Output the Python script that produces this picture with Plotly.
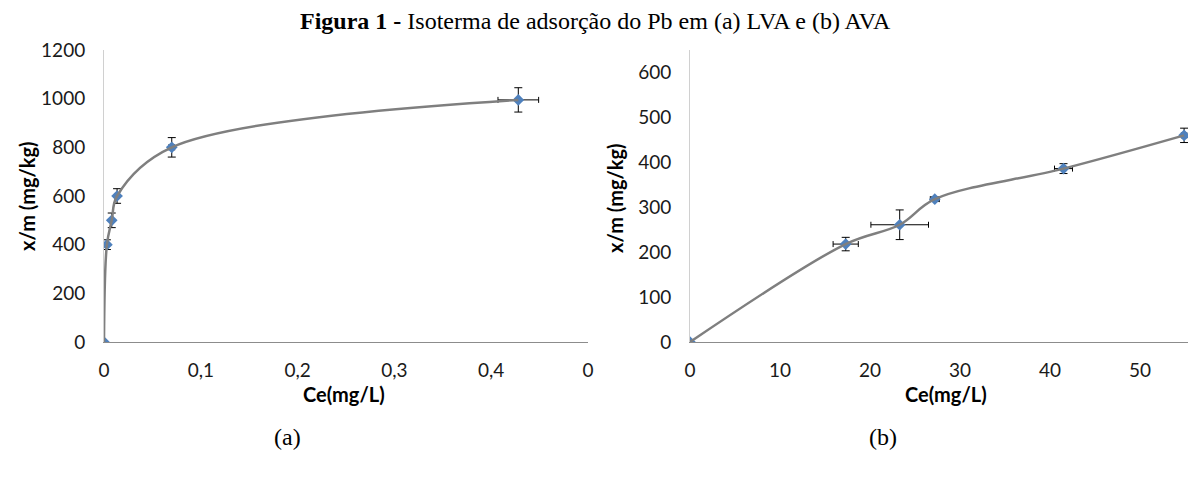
import plotly.graph_objects as go

# Panel (a) LVA
ce_a = [0, 0.003, 0.008, 0.0135, 0.070, 0.428]
xm_a = [0, 400, 500, 600, 800, 995]
ce_a_err = [0, 0.001, 0.001, 0.002, 0.003, 0.021]
xm_a_err = [0, 20, 30, 30, 40, 50]

# Panel (b) AVA
ce_b = [0, 17.3, 23.3, 27.2, 41.5, 54.9]
xm_b = [0, 218, 261, 318, 386, 460]
ce_b_err = [0, 1.4, 3.2, 0.5, 1.0, 0.3]
xm_b_err = [0, 15, 33, 5, 11, 16]

xticks_a = [0, 0.1, 0.2, 0.3, 0.4, 0.5]
xticktext_a = ["0", "0,1", "0,2", "0,3", "0,4", "0"]
yticks_a = [0, 200, 400, 600, 800, 1000, 1200]
xticks_b = [0, 10, 20, 30, 40, 50]
yticks_b = [0, 100, 200, 300, 400, 500, 600]

LINE = "#7f7f7f"
MARK = "#4F81BD"
AX = "#8c8c8c"
TICKFONT = dict(family="Lato, Open Sans, sans-serif", size=19, color="#1a1a1a")
TITLEFONT = dict(family="Lato, Open Sans, sans-serif", size=20, color="#000")
SERIF = dict(family="Liberation Serif, Times New Roman, serif", size=24, color="#000")

# page body has an 8px margin: figure is laid out in its own frame
OFF = 8
W, H = 1196 - OFF, 479 - OFF

def px(x):
    return (x - OFF) / W

def py(y):
    return 1 - (y - OFF) / H

fig = go.Figure()

def add_panel(x, y, ex, ey, xa, ya):
    fig.add_trace(go.Scatter(
        x=x, y=y, mode="markers", xaxis=xa, yaxis=ya,
        marker=dict(symbol="diamond", size=9, color=MARK),
        error_x=dict(type="data", array=ex, color="#000", thickness=1, width=3),
        error_y=dict(type="data", array=ey, color="#000", thickness=1, width=4),
        showlegend=False, hoverinfo="skip"))
    fig.add_trace(go.Scatter(
        x=x, y=y, mode="lines", xaxis=xa, yaxis=ya,
        line=dict(color=LINE, width=2.5, shape="spline", smoothing=1),
        showlegend=False, hoverinfo="skip"))

add_panel(ce_a, xm_a, ce_a_err, xm_a_err, "x", "y")
add_panel(ce_b, xm_b, ce_b_err, xm_b_err, "x2", "y2")

ydom = [py(342), py(50)]
common_x = dict(showgrid=False, zeroline=False, showline=True, linecolor=AX, linewidth=1,
                ticks="", tickfont=TICKFONT, ticklabelstandoff=11, automargin=False)
common_y = dict(showgrid=False, zeroline=False, showline=True, linecolor="#d0d0d0", linewidth=1,
                ticks="", tickfont=TICKFONT, ticklabelstandoff=14, automargin=False)

def ann(text, x, y, font, angle=0):
    return dict(text=text, x=px(x), y=py(y), xref="paper", yref="paper",
                showarrow=False, font=font, textangle=angle,
                xanchor="center", yanchor="middle")

fig.update_layout(
    width=W, height=H,
    margin=dict(l=0, r=0, t=0, b=0, autoexpand=False),
    paper_bgcolor="white", plot_bgcolor="white",
    xaxis=dict(domain=[px(104), px(588)], range=[0, 0.5], tickvals=xticks_a,
               ticktext=xticktext_a, anchor="y", **common_x),
    yaxis=dict(domain=ydom, range=[0, 1200], tickvals=yticks_a, anchor="x", **common_y),
    xaxis2=dict(domain=[px(690), px(1194)], range=[0, 56], tickvals=xticks_b,
                anchor="y2", **common_x),
    yaxis2=dict(domain=ydom, range=[0, 650], tickvals=yticks_b, anchor="x2", **common_y),
    annotations=[
        ann("<b>Figura 1 -</b> Isoterma de adsorção do Pb em (a) LVA e (b) AVA", 595, 21, SERIF),
        ann("(a)", 287, 437, SERIF),
        ann("(b)", 883, 437, SERIF),
        ann("<b>Ce(mg/L)</b>", 344, 394, TITLEFONT),
        ann("<b>Ce(mg/L)</b>", 946, 394, TITLEFONT),
        ann("<b>x/m (mg/kg)</b>", 27, 196, TITLEFONT, -90),
        ann("<b>x/m (mg/kg)</b>", 615, 198, TITLEFONT, -90),
    ],
)

fig.write_html("out.html")
